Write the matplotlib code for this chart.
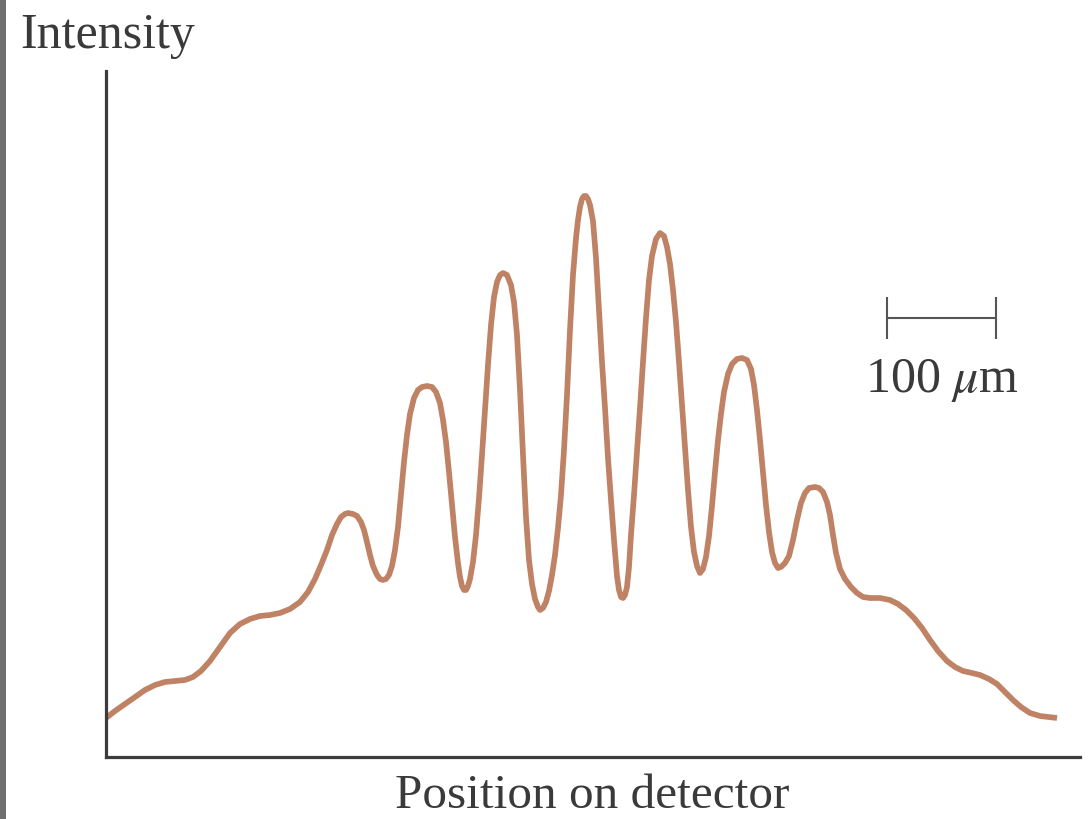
import matplotlib
matplotlib.use("Agg")
import matplotlib.pyplot as plt
from matplotlib.patches import Rectangle

plt.rcParams['font.family'] = ['Liberation Serif', 'DejaVu Serif']
plt.rcParams['mathtext.fontset'] = 'stix'

# Position along detector (a.u., 109 units = 100 um) and intensity (a.u.)
position = [0, 9, 19, 29, 39, 49, 59, 69, 79, 87,
            95, 104, 114, 124, 134, 144, 154, 164, 174, 184,
            194, 202, 209, 215, 221, 226, 231, 235, 239, 242,
            247, 251, 255, 258, 261, 264, 267, 271, 274, 277,
            280, 283, 286, 289, 292, 295, 298, 301, 304, 308,
            312, 316, 321, 326, 330, 334, 337, 340, 343, 346,
            349, 352, 354, 356, 358, 360, 362, 364, 367, 370,
            373, 376, 379, 382, 385, 388, 391, 394, 397, 401,
            405, 408, 411, 414, 417, 420, 423, 426, 429, 432,
            434, 437, 440, 443, 446, 449, 452, 455, 458, 461,
            464, 467, 470, 472, 474, 476, 478, 480, 482, 484,
            487, 490, 493, 496, 499, 502, 505, 508, 511, 513,
            515, 517, 519, 521, 523, 525, 528, 531, 534, 537,
            540, 543, 546, 550, 554, 558, 561, 564, 567, 570,
            573, 576, 579, 582, 585, 588, 591, 594, 597, 600,
            603, 606, 609, 612, 615, 618, 622, 626, 631, 636,
            641, 645, 648, 651, 654, 657, 660, 663, 666, 669,
            672, 675, 679, 683, 687, 691, 695, 699, 703, 709,
            713, 717, 721, 724, 727, 730, 734, 739, 745, 751,
            757, 764, 774, 784, 792, 800, 808, 816, 824, 832,
            841, 849, 857, 866, 874, 883, 891, 899, 907, 915,
            924, 934, 943, 951]
intensity = [39, 46, 53, 60, 67, 72, 75, 76, 77, 80,
             86, 96, 110, 124, 133, 138, 141, 142, 144, 148,
             155, 165, 178, 192, 207, 222, 233, 240, 243, 244,
             243, 241, 235, 227, 215, 202, 191, 182, 178, 177,
             178, 182, 191, 207, 230, 262, 295, 322, 343, 359,
             367, 370, 371, 370, 365, 354, 337, 315, 285, 252,
             220, 194, 180, 171, 167, 167, 171, 178, 195, 222,
             259, 302, 347, 392, 432, 460, 475, 482, 484, 482,
             472, 455, 422, 367, 302, 240, 197, 173, 158, 150,
             147, 149, 155, 166, 182, 202, 229, 262, 307, 362,
             427, 482, 519, 537, 550, 558, 561, 561, 558, 552,
             536, 499, 447, 395, 349, 299, 257, 217, 181, 167,
             160, 159, 162, 170, 190, 222, 262, 305, 349, 395,
             439, 477, 501, 518, 524, 521, 510, 493, 467, 435,
             395, 352, 309, 267, 230, 205, 191, 184, 188, 200,
             221, 251, 285, 317, 343, 365, 383, 393, 398, 399,
             397, 388, 372, 347, 317, 285, 252, 225, 205, 194,
             189, 190, 194, 201, 217, 237, 254, 264, 269, 270,
             269, 265, 255, 242, 222, 204, 188, 178, 170, 164,
             160, 159, 159, 157, 153, 147, 139, 129, 117, 106,
             96, 90, 86, 84, 82, 78, 73, 65, 57, 50,
             44, 41, 40, 39]

scale_bar_start = 781
scale_bar_len = 109          # = 100 um
scale_bar_y = 439
scale_label = r'100 $\mu$m'

W, H = 1090, 819
fig = plt.figure(figsize=(W / 100, H / 100), dpi=100)
fig.patch.set_facecolor('white')

ax = fig.add_axes([106 / W, (H - 757) / H, (1080 - 106) / W, (757 - 71) / H])
ax.plot(position, intensity, color='#bf8264', lw=4.1, solid_capstyle='butt', solid_joinstyle='round')
ax.set_xlim(0, 974)
ax.set_ylim(0, 686)
for s in ('top', 'right'):
    ax.spines[s].set_visible(False)
for s in ('left', 'bottom'):
    ax.spines[s].set_color('#3c3c3c')
    ax.spines[s].set_linewidth(2.3)
ax.set_xticks([])
ax.set_yticks([])

# scale bar
bar_col = '#555555'
ax.plot([scale_bar_start, scale_bar_start + scale_bar_len], [scale_bar_y, scale_bar_y],
        color=bar_col, lw=1.5, solid_capstyle='butt')
for xx in (scale_bar_start, scale_bar_start + scale_bar_len):
    ax.plot([xx, xx], [scale_bar_y - 21, scale_bar_y + 21], color=bar_col, lw=1.5,
            solid_capstyle='butt')
ax.text(scale_bar_start + scale_bar_len / 2, 365, scale_label, ha='center', va='baseline',
        fontsize=36, color='#3a3a3a')

fig.text(20 / W, 1 - 48 / H, 'Intensity', ha='left', va='baseline', fontsize=36, color='#3a3a3a')
fig.text(592 / W, 1 - 808 / H, 'Position on detector', ha='center', va='baseline',
         fontsize=35.5, color='#3a3a3a')

# grey border strip at the left edge
fig.patches.append(Rectangle((0, 0), 6 / W, 1, transform=fig.transFigure,
                             facecolor='#6f6f6f', edgecolor='none'))

fig.savefig('out.png', dpi=100)
